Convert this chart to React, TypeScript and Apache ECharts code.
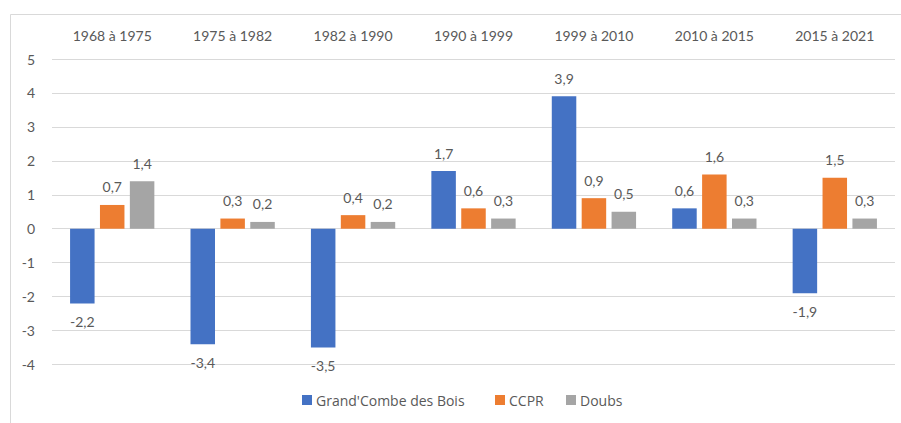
import React, { useEffect, useRef } from "react";
import * as echarts from "echarts";

const categories = ["1968 à 1975", "1975 à 1982", "1982 à 1990", "1990 à 1999", "1999 à 2010", "2010 à 2015", "2015 à 2021"];
const grandCombe = [-2.2, -3.4, -3.5, 1.7, 3.9, 0.6, -1.9];
const ccpr = [0.7, 0.3, 0.4, 0.6, 0.9, 1.6, 1.5];
const doubs = [1.4, 0.2, 0.2, 0.3, 0.5, 0.3, 0.3];
const seriesNames = ["Grand'Combe des Bois", "CCPR", "Doubs"];
const colors = ["#4472C4", "#ED7D31", "#A5A5A5"];

const FONT = "Lato, 'Open Sans', sans-serif";
const TEXT = "#595959";

function toData(arr: number[]) {
  return arr.map((v) => ({
    value: v,
    label: { position: v < 0 ? "bottom" : "top" },
  }));
}

export default function App() {
  const ref = useRef<HTMLDivElement>(null);
  useEffect(() => {
    if (!ref.current) return;
    const chart = echarts.init(ref.current, null, { renderer: "svg" });
    const all = [grandCombe, ccpr, doubs];
    const legendLefts = [302, 495, 566];
    chart.setOption({
      animation: false,
      backgroundColor: "#ffffff",
      textStyle: { fontFamily: FONT },
      graphic: [
        {
          type: "rect",
          shape: { x: 10.5, y: 14.5, width: 900, height: 420 },
          style: { fill: "none", stroke: "#d9d9d9", lineWidth: 1 },
          silent: true,
        },
      ],
      grid: { left: 52, right: 6, top: 59, bottom: 58.5 },
      legend: seriesNames.map((n, i) => ({
        data: [n],
        left: legendLefts[i],
        top: 393,
        padding: 0,
        itemWidth: 10,
        itemHeight: 10,
        itemGap: 0,
        icon: "rect",
        textStyle: { color: TEXT, fontSize: 14, fontFamily: "'Open Sans', Lato, sans-serif", padding: [0, 0, 0, -1] },
        selectedMode: false,
      })),
      xAxis: {
        type: "category",
        data: categories,
        position: "top",
        axisLine: { show: false },
        axisTick: { show: false },
        axisLabel: { color: TEXT, fontSize: 14, margin: 17, fontFamily: FONT },
      },
      yAxis: {
        type: "value",
        min: -4,
        max: 5,
        interval: 1,
        axisLine: { show: false },
        axisTick: { show: false },
        axisLabel: { color: TEXT, fontSize: 14, margin: 17, fontFamily: FONT },
        splitLine: { lineStyle: { color: "#d9d9d9", width: 1 } },
      },
      series: seriesNames.map((n, i) => ({
        name: n,
        type: "bar",
        data: toData(all[i]),
        barWidth: 24.5,
        barGap: "22%",
        itemStyle: { color: colors[i] },
        label: {
          show: true,
          distance: 11,
          color: TEXT,
          fontSize: 14,
          fontFamily: FONT,
          formatter: (p: any) => String(p.value).replace(".", ","),
        },
      })),
    });
    return () => chart.dispose();
  }, []);
  return (
    <div
      ref={ref}
      style={{ position: "absolute", left: 0, top: 0, width: 901, height: 423 }}
    />
  );
}
